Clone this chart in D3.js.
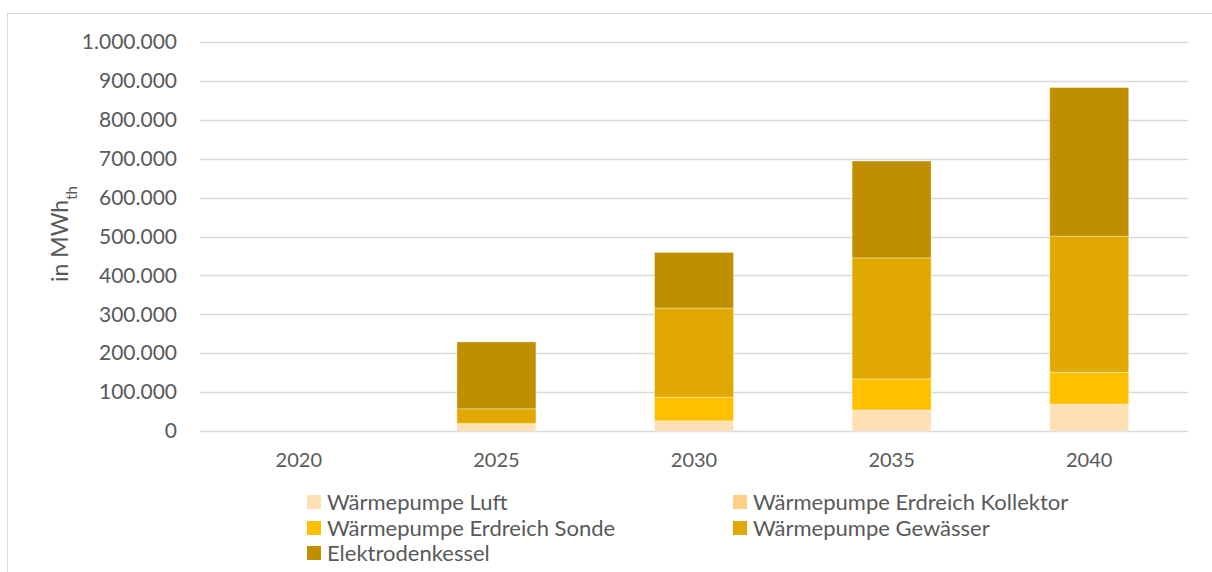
<!DOCTYPE html>
<html>
<head>
<meta charset="utf-8">
<script src="https://cdn.jsdelivr.net/npm/d3@7"></script>
<style>
  html, body { margin: 0; padding: 0; background: #fff; }
  svg { display: block; }
  text { font-family: Lato, "Open Sans", sans-serif; fill: #595959; }
</style>
</head>
<body>
<svg id="chart" width="1212" height="572"></svg>
<script>
// Heat generation by technology, in MWh (thermal)
const years = ["2020", "2025", "2030", "2035", "2040"];
const seriesNames = [
  "Wärmepumpe Luft",
  "Wärmepumpe Erdreich Kollektor",
  "Wärmepumpe Erdreich Sonde",
  "Wärmepumpe Gewässer",
  "Elektrodenkessel"
];
const luft      = [0, 17000, 26000, 54000, 69000];
const kollektor = [0, 0, 0, 0, 0];
const sonde     = [0, 3000, 61000, 80000, 82000];
const gewaesser = [0, 37000, 229000, 311000, 350000];
const elektro   = [0, 172000, 143000, 249000, 382000];
const colors = ["#FFDFB4", "#FFCF85", "#FFC000", "#E0A800", "#BF8F00"];
const yTicks = [0, 100000, 200000, 300000, 400000, 500000, 600000, 700000, 800000, 900000, 1000000];

const seriesValues = [luft, kollektor, sonde, gewaesser, elektro];
const rows = years.map((y, i) => {
  const r = { year: y };
  seriesNames.forEach((n, k) => { r[n] = seriesValues[k][i]; });
  return r;
});

const svg = d3.select("#chart");
const W = 1212, H = 572;
const m = { left: 200, right: 24, top: 42, bottom: 141 };

// outer frame
svg.append("rect")
  .attr("x", 7.5).attr("y", 13.5)
  .attr("width", W + 10).attr("height", H + 10)
  .attr("fill", "none").attr("stroke", "#d9d9d9").attr("stroke-width", 1);

const x = d3.scaleBand().domain(years).range([m.left, W - m.right]).paddingInner(0.6).paddingOuter(0.3);
const y = d3.scaleLinear().domain([0, 1000000]).range([H - m.bottom, m.top]);

const fmt = v => d3.format(",")(v).replace(/,/g, ".");

// gridlines
svg.append("g")
  .selectAll("line").data(yTicks).join("line")
  .attr("x1", m.left).attr("x2", W - m.right)
  .attr("y1", d => Math.round(y(d)) + 0.5).attr("y2", d => Math.round(y(d)) + 0.5)
  .attr("stroke", "#d9d9d9").attr("stroke-width", 1.5);

// y axis labels
const yAxis = d3.axisLeft(y).tickValues(yTicks).tickFormat(fmt).tickSize(0).tickPadding(23);
const gy = svg.append("g").attr("transform", `translate(${m.left},0)`).call(yAxis);
gy.select(".domain").remove();
gy.selectAll("text").style("font-size", "21px").style("font-family", "Lato, sans-serif").attr("fill", "#595959");

// x axis labels
const xAxis = d3.axisBottom(x).tickSize(0).tickPadding(22);
const gx = svg.append("g").attr("transform", `translate(0,${H - m.bottom})`).call(xAxis);
gx.select(".domain").remove();
gx.selectAll("text").style("font-size", "20px").style("font-family", "Lato, sans-serif").attr("fill", "#595959");

// stacked bars
const stack = d3.stack().keys(seriesNames)(rows);
const barW = 79;
svg.append("g").selectAll("g").data(stack).join("g")
  .attr("fill", (d, i) => colors[i])
  .selectAll("rect").data(d => d).join("rect")
  .attr("x", d => x(d.data.year) + x.bandwidth() / 2 - barW / 2)
  .attr("width", barW)
  .attr("y", d => y(d[1]))
  .attr("height", d => Math.max(0, y(d[0]) - y(d[1])))
  .attr("stroke", "rgba(255,255,255,0.35)")
  .attr("stroke-width", d => (d[1] - d[0]) > 0 ? 1 : 0);

// y axis title
svg.append("text")
  .attr("transform", "translate(68,234) rotate(-90)")
  .attr("text-anchor", "middle")
  .style("font-size", "23px")
  .call(t => {
    t.append("tspan").text("in MWh");
    t.append("tspan").text("th").attr("baseline-shift", "sub").style("font-size", "15px");
  });

// legend
const legend = [
  { name: seriesNames[0], c: colors[0], x: 307, y: 502 },
  { name: seriesNames[1], c: colors[1], x: 733, y: 502 },
  { name: seriesNames[2], c: colors[2], x: 307, y: 528 },
  { name: seriesNames[3], c: colors[3], x: 733, y: 528 },
  { name: seriesNames[4], c: colors[4], x: 307, y: 553 }
];
const lg = svg.append("g").selectAll("g").data(legend).join("g")
  .attr("transform", d => `translate(${d.x},${d.y})`);
lg.append("rect").attr("x", 0).attr("y", -7).attr("width", 14).attr("height", 14).attr("fill", d => d.c);
lg.append("text").attr("x", 20).attr("y", 7.5).style("font-size", "22px").text(d => d.name);
</script>
</body>
</html>
